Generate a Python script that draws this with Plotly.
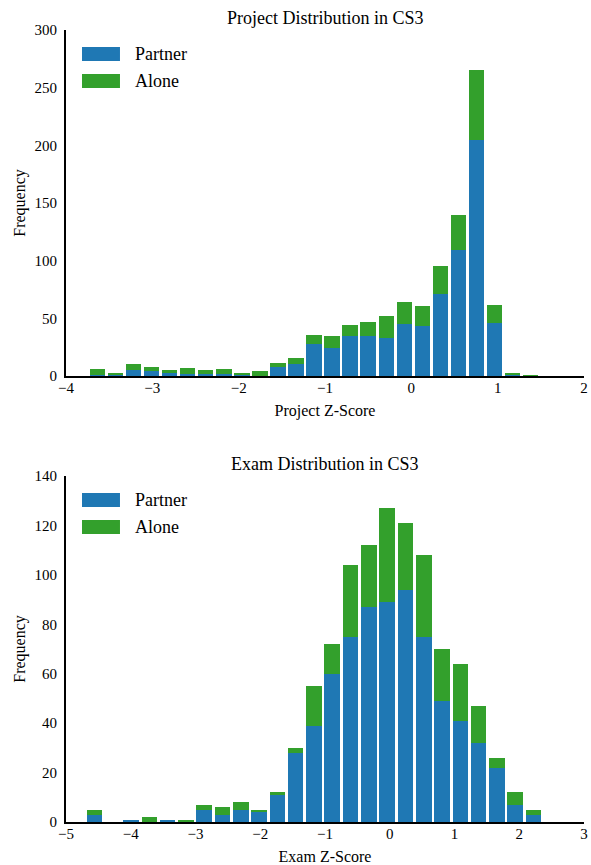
import plotly.graph_objects as go

# ---------------- data ----------------
project_bins = [-3.635, -3.426, -3.217, -3.008, -2.799, -2.590, -2.381, -2.172, -1.963,
                -1.754, -1.545, -1.336, -1.127, -0.918, -0.709, -0.500, -0.291, -0.082,
                0.127, 0.336, 0.545, 0.754, 0.963, 1.172, 1.381]
project_partner = [1, 1, 5, 4, 3, 2, 2, 2, 1, 0, 8, 10, 28, 24, 35, 35, 33, 45, 43, 71, 109, 205, 46, 1, 0]
project_alone = [5, 1, 5, 4, 2, 5, 3, 4, 1, 4, 3, 6, 8, 11, 9, 12, 19, 19, 18, 24, 31, 60, 16, 2, 1]

exam_bins = [-4.560, -4.278, -3.995, -3.713, -3.430, -3.148, -2.865, -2.583, -2.300,
             -2.018, -1.735, -1.453, -1.170, -0.888, -0.605, -0.323, -0.040, 0.243,
             0.525, 0.808, 1.090, 1.373, 1.655, 1.938, 2.220]
exam_partner = [3, 0, 1, 0, 1, 0, 5, 3, 5, 4, 11, 28, 39, 60, 75, 87, 89, 94, 75, 49, 41, 32, 22, 7, 3]
exam_alone = [2, 0, 0, 2, 0, 1, 2, 3, 3, 1, 1, 2, 16, 12, 29, 25, 38, 27, 33, 21, 23, 15, 4, 5, 2]

project_xticks = [-4, -3, -2, -1, 0, 1, 2]
project_yticks = [0, 50, 100, 150, 200, 250, 300]
exam_xticks = [-5, -4, -3, -2, -1, 0, 1, 2, 3]
exam_yticks = [0, 20, 40, 60, 80, 100, 120, 140]

series_names = ["Partner", "Alone"]
titles = ["Project Distribution in CS3", "Exam Distribution in CS3"]
x_titles = ["Project Z-Score", "Exam Z-Score"]
y_title = "Frequency"

BLUE = "#1f78b4"
GREEN = "#33a02c"
FONT = "Liberation Serif"

fig = go.Figure()

panels = [
    ("x", "y", project_bins, project_partner, project_alone, 0.178),
    ("x2", "y2", exam_bins, exam_partner, exam_alone, 0.240),
]
for xa, ya, bins, partner, alone, w in panels:
    fig.add_trace(go.Bar(x=bins, y=partner, width=w, name=series_names[0],
                         marker=dict(color=BLUE, line=dict(width=0)),
                         xaxis=xa, yaxis=ya, showlegend=False))
    fig.add_trace(go.Bar(x=bins, y=alone, width=w, name=series_names[1],
                         marker=dict(color=GREEN, line=dict(width=0)),
                         xaxis=xa, yaxis=ya, showlegend=False))

axis_common = dict(showline=True, linecolor="black", linewidth=2, showgrid=False,
                   zeroline=False, ticks="", ticklen=0, automargin=False,
                   ticklabeloverflow="allow",
                   tickfont=dict(family=FONT, size=15, color="black"))

fig.update_layout(
    width=591, height=865,
    margin=dict(l=66, r=7, t=30, b=43),
    paper_bgcolor="white", plot_bgcolor="white",
    barmode="stack",
    font=dict(family=FONT, color="black"),
    xaxis=dict(domain=[0, 1], anchor="y", range=[-4, 2], tickmode="array",
               tickvals=project_xticks,
               title=dict(text=x_titles[0], font=dict(size=16), standoff=10),
               ticklabelstandoff=-3, **axis_common),
    yaxis=dict(domain=[0.5631, 1], anchor="x", range=[0, 300], tickmode="array",
               tickvals=project_yticks,
               title=dict(text=y_title, font=dict(size=16), standoff=5),
               ticklabelstandoff=4, **axis_common),
    xaxis2=dict(domain=[0, 1], anchor="y2", range=[-5, 3], tickmode="array",
                tickvals=exam_xticks,
                title=dict(text=x_titles[1], font=dict(size=16), standoff=10),
                ticklabelstandoff=-3, **axis_common),
    yaxis2=dict(domain=[0, 0.4369], anchor="x2", range=[0, 140], tickmode="array",
                tickvals=exam_yticks,
                title=dict(text=y_title, font=dict(size=16), standoff=5),
                ticklabelstandoff=4, **axis_common),
)

# subplot titles
fig.add_annotation(text=titles[0], x=0.5, y=1.0152, xref="paper", yref="paper",
                   showarrow=False, font=dict(size=18), yanchor="middle")
fig.add_annotation(text=titles[1], x=0.5, y=0.452, xref="paper", yref="paper",
                   showarrow=False, font=dict(size=18), yanchor="middle")

# legends (large patches like the original)
for xa, ya in [("x", "y"), ("x2", "y2")]:
    xr = f"{xa} domain"
    yr = f"{ya} domain"
    for k, (col, name) in enumerate([(BLUE, series_names[0]), (GREEN, series_names[1])]):
        top = 1 - (17 + 27 * k) / 346
        bot = 1 - (31 + 27 * k) / 346
        fig.add_shape(type="rect", xref=xr, yref=yr, x0=0.0309, x1=0.1042, y0=bot, y1=top,
                      fillcolor=col, line=dict(width=0))
        fig.add_annotation(text=name, xref=xr, yref=yr, x=0.1294, y=(top + bot) / 2,
                           xanchor="left", yanchor="middle", showarrow=False,
                           font=dict(size=18))

fig.write_html("out.html", config={"displayModeBar": False},
               post_script="document.body.style.margin='0px';")
